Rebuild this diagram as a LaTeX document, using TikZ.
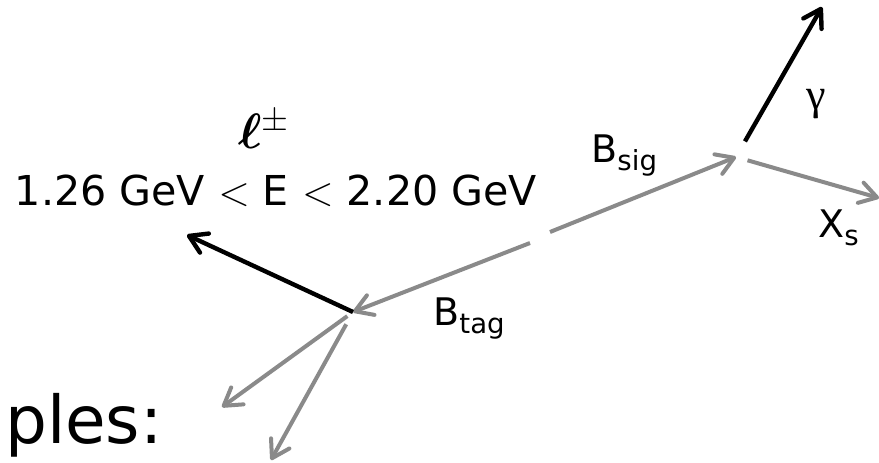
\documentclass[tikz,border=0pt]{standalone}
\usepackage{bm}
\usepackage{fontspec}
\setmainfont{DejaVu Sans}
\newfontfamily\greekfont{Liberation Serif}
\usetikzlibrary{arrows.meta}
\definecolor{ink}{HTML}{000000}
\definecolor{track}{HTML}{8A8A8A}
\newcommand{\partlab}[2]{#1\raisebox{-4pt}{\fontsize{13.8}{15}\selectfont #2}}

\begin{document}
\begin{tikzpicture}[x=0.5pt,y=-0.5pt,>={Straight Barb[length=8.5pt,width=10.5pt,round]},
    trk/.style={draw=track,line width=2pt,->},
    lep/.style={draw=ink,line width=2.2pt,->},
    lab/.style={inner sep=0pt,anchor=base west,font=\fontsize{19}{21}\selectfont}]
  \useasboundingbox (0,0) rectangle (879,462);
  % vertices and free track ends
  \coordinate (tagv) at (353,312);
  \coordinate (sigv) at (736,157);
  \coordinate (midl) at (530,243);
  \coordinate (midr) at (550,232);
  \coordinate (lend) at (187,235);
  \coordinate (gend) at (822,7);
  \coordinate (xend) at (879,198);
  \coordinate (ta) at (222,407);
  \coordinate (tb) at (271,460);
  % labels
  \node[inner sep=0pt,font=\fontsize{23}{25}\selectfont] (lname) at (264,129) {$\bm{\ell}^{\pm}$};
  \node[inner sep=0pt,font=\fontsize{20.6}{24}\selectfont] (lcut) at (276,191) {1.26 GeV $<$ E $<$ 2.20 GeV};
  \node[lab] (bsig) at (591,162) {\partlab{B}{sig}};
  \node[lab] (btag) at (433,325) {\partlab{B}{tag}};
  \node[lab] (xs) at (818,237) {\partlab{X}{s}};
  \node[inner sep=0pt,font=\greekfont\fontsize{22}{24}\selectfont] (gam) at (816,104) {γ};
  \node[inner sep=0pt,anchor=base east,font=\fontsize{33}{37}\selectfont] (ples) at (163,443) {ples:};
  % tracks
  \draw[trk] (midr) -- (sigv);
  \draw[trk] (midl) -- (tagv);
  \draw[lep,shorten <=9pt] (sigv) -- (gend);
  \draw[trk,shorten <=6pt] (sigv) -- (xend);
  \draw[lep] (tagv) -- (lend);
  \foreach \e/\s in {ta/3.5pt,tb/7pt}{\draw[trk,shorten <=\s] (tagv) -- (\e);}
\end{tikzpicture}
\end{document}
